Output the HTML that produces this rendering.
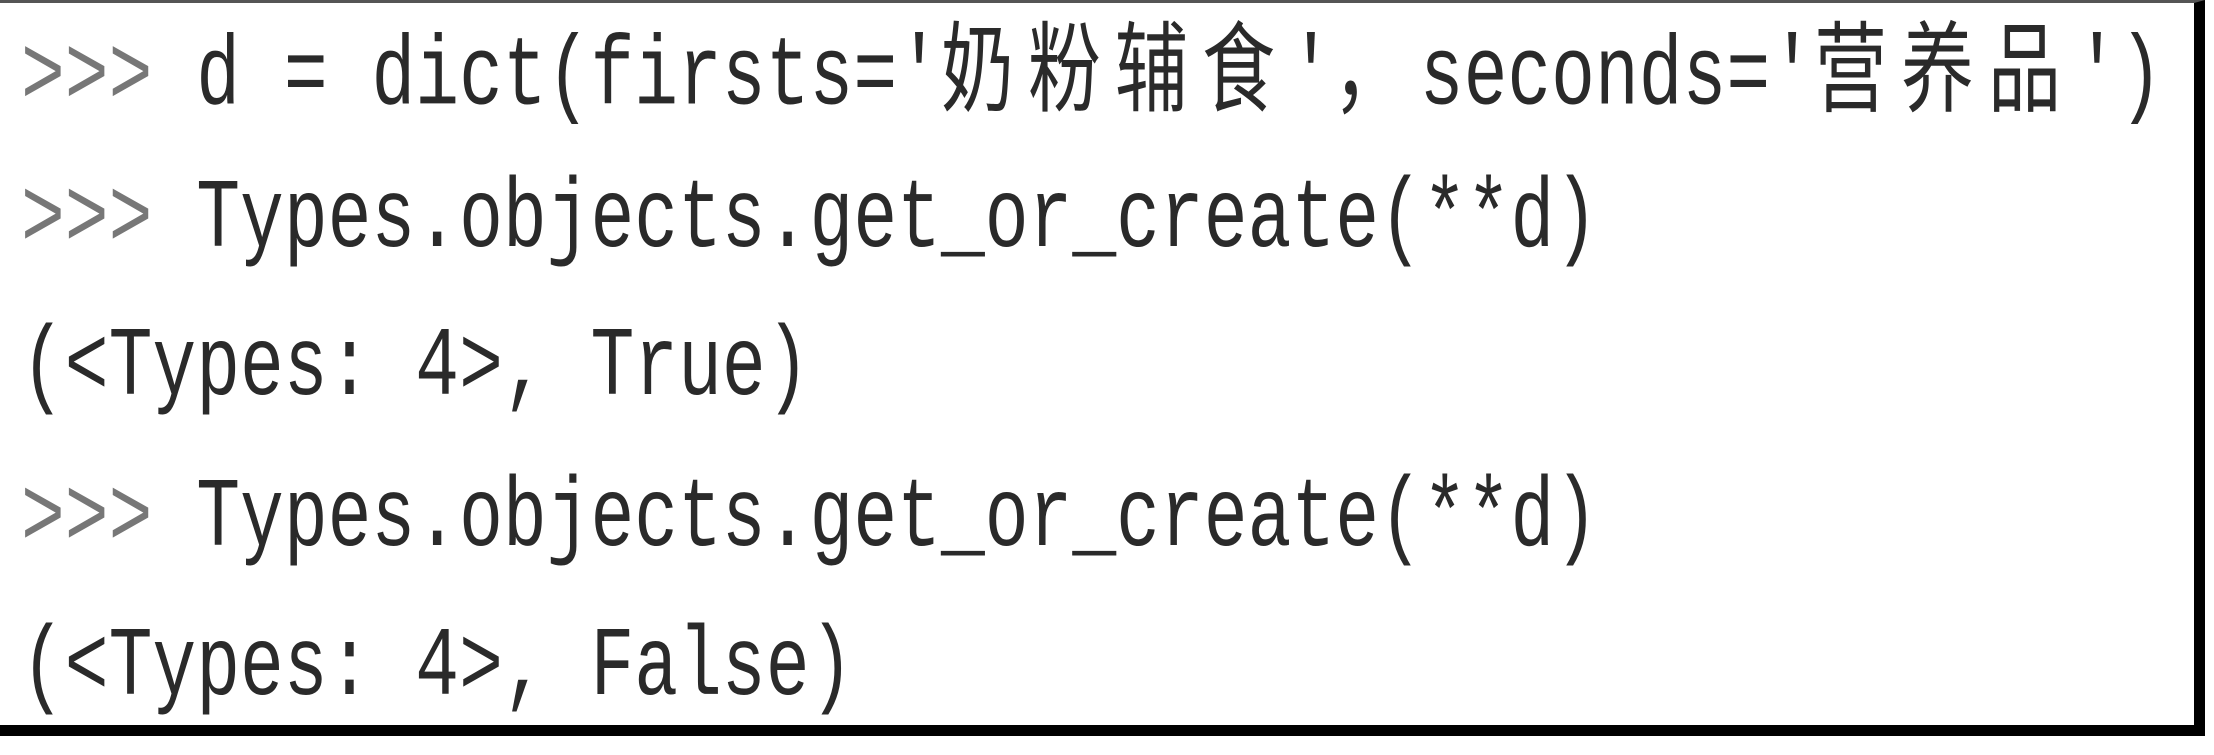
<!DOCTYPE html>
<html><head><meta charset="utf-8"><style>
html,body{margin:0;padding:0;background:#fff;}
body{width:2214px;height:755px;position:relative;overflow:hidden;}
.box{position:absolute;left:0;top:0;width:2194px;height:722px;border-top:3px solid #555;border-right:11px solid #000;border-bottom:11px solid #000;}
.l{position:absolute;left:21px;height:73px;line-height:73px;font-family:"Liberation Mono","Noto Sans CJK SC",monospace;font-size:73px;color:#2a2a2a;white-space:pre;transform:scaleY(1.35);transform-origin:left center;}
.c{font-family:"Noto Sans CJK SC","WenQuanYi Zen Hei",sans-serif;letter-spacing:14px;font-size:73px;}
.g{color:#777;}
</style></head><body>
<div class="box"></div>
<div class="l" style="top:26px"><span class="g">&gt;&gt;&gt;</span> d = dict(firsts='<span class="c">奶粉辅食</span>'<span class="c">，</span>seconds='<span class="c">营养品</span>')</div>
<div class="l" style="top:183px"><span class="g">&gt;&gt;&gt;</span> Types.objects.get_or_create(**d)</div>
<div class="l" style="top:331px">(&lt;Types: 4&gt;, True)</div>
<div class="l" style="top:482px"><span class="g">&gt;&gt;&gt;</span> Types.objects.get_or_create(**d)</div>
<div class="l" style="top:631px">(&lt;Types: 4&gt;, False)</div>
</body></html>
